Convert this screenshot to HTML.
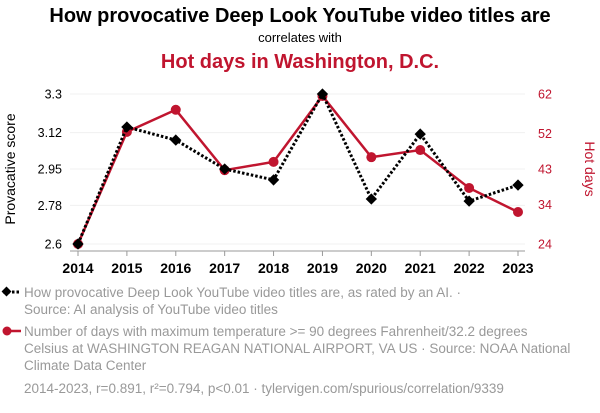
<!DOCTYPE html>
<html><head><meta charset="utf-8"><style>
body{margin:0;background:#fff;font-family:"Liberation Sans",Arial,sans-serif}
svg text{font-family:"Liberation Sans",Arial,sans-serif}
</style></head><body>
<svg id="c" width="600" height="408" viewBox="0 0 600 408" xmlns="http://www.w3.org/2000/svg">
<text x="300" y="22" text-anchor="middle" font-size="20" font-weight="bold" fill="#000">How provocative Deep Look YouTube video titles are</text>
<text x="300" y="42" text-anchor="middle" font-size="13" fill="#000">correlates with</text>
<text x="300" y="68" text-anchor="middle" font-size="20" font-weight="bold" fill="#c0152f">Hot days in Washington, D.C.</text>
<g id="grid"></g><g id="axes"></g><g id="series"></g>
<text transform="translate(15,169) rotate(-90)" text-anchor="middle" font-size="14" fill="#000">Provacative score</text>
<text transform="translate(585,169) rotate(90)" text-anchor="middle" font-size="14" fill="#c0152f">Hot days</text>
<g>
<line x1="3" y1="292" x2="21" y2="292" stroke="#000" stroke-width="3" stroke-dasharray="2.5,2"/>
<rect x="3" y="288" width="7" height="7" transform="rotate(45 6.5 291.5)" fill="#000"/>
<text x="24" y="297" font-size="13.5" fill="#999">How provocative Deep Look YouTube video titles are, as rated by an AI. ·</text>
<text x="24" y="314" font-size="13.5" fill="#999">Source: AI analysis of YouTube video titles</text></g>
<g>
<line x1="3" y1="331" x2="21" y2="331" stroke="#c0152f" stroke-width="2.5"/>
<circle cx="7" cy="331" r="4.5" fill="#c0152f"/>
<text x="24" y="336" font-size="13.5" fill="#999">Number of days with maximum temperature &gt;= 90 degrees Fahrenheit/32.2 degrees</text>
<text x="24" y="353" font-size="13.5" fill="#999">Celsius at WASHINGTON REAGAN NATIONAL AIRPORT, VA US · Source: NOAA National</text>
<text x="24" y="370" font-size="13.5" fill="#999">Climate Data Center</text></g>
<text x="24" y="393" font-size="13.5" fill="#999">2014-2023, r=0.891, r²=0.794, p&lt;0.01 · tylervigen.com/spurious/correlation/9339</text>
</svg>
<script>
const years=[2014,2015,2016,2017,2018,2019,2020,2021,2022,2023];
const scores=[2.6,3.146,3.085,2.95,2.899,3.3,2.81,3.113,2.80,2.875];
const hotDays=[24,52.4,58,42.7,44.8,61.5,46,47.8,38.2,32.1];
const leftTicks=["2.6","2.78","2.95","3.12","3.3"];
const rightTicks=["24","34","43","52","62"];
const NS="http://www.w3.org/2000/svg";
const x=i=>78+(518-78)*(years[i]-2014)/(2023-2014);
const yL=v=>244-(v-2.6)/(3.3-2.6)*150;
const yR=v=>244-(v-24)/(62-24)*150;
function mk(p,t,a){const e=document.createElementNS(NS,t);for(const k in a)e.setAttribute(k,a[k]);p.appendChild(e);return e;}
const grid=document.getElementById('grid'),axes=document.getElementById('axes'),ser=document.getElementById('series');
leftTicks.forEach((t,i)=>{const y=yL(+t);
 const g=mk(grid,'line',{x1:70,x2:525,y1:y,y2:y,stroke:'#f0f0f0','stroke-width':1});
 
 
 const l=mk(axes,'text',{x:62,y:y+4.5,'text-anchor':'end','font-size':12.5});l.textContent=t;
 
 });
rightTicks.forEach(t=>{const y=yR(+t);
 const l=mk(axes,'text',{x:538,y:y+4.5,'font-size':12.5,fill:'#c0152f'});l.textContent=t;
 
 });
const ax=mk(axes,'line',{x1:70,x2:525,y1:251,y2:251,stroke:'#999','stroke-width':1});


years.forEach((yr,i)=>{mk(axes,'line',{x1:x(i),x2:x(i),y1:251,y2:256,stroke:'#999'});
 const l=mk(axes,'text',{x:x(i),y:273,'text-anchor':'middle','font-size':14,'font-weight':'bold'});l.textContent=yr;
 
 });
const rp=mk(ser,'polyline',{points:hotDays.map((v,i)=>x(i)+','+yR(v)).join(' '),fill:'none',stroke:'#c0152f','stroke-width':2.5});


hotDays.forEach((v,i)=>{const c=mk(ser,'circle',{cx:x(i),cy:yR(v),r:5,fill:'#c0152f'});
 
 });
const bp=mk(ser,'polyline',{points:scores.map((v,i)=>x(i)+','+yL(v)).join(' '),fill:'none',stroke:'#000','stroke-width':3,'stroke-dasharray':'2.5,2'});


scores.forEach((v,i)=>{const cx=x(i),cy=yL(v);
 const r=mk(ser,'rect',{x:cx-4,y:cy-4,width:8,height:8,fill:'#000',transform:`rotate(45 ${cx} ${cy})`});
 
 });
</script>
</body></html>
